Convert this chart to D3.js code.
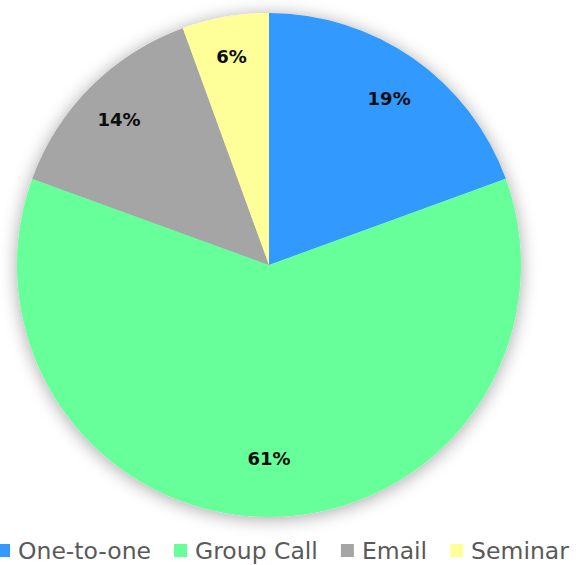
<!DOCTYPE html>
<html>
<head>
<meta charset="utf-8">
<script src="https://cdn.jsdelivr.net/npm/d3@7"></script>
<style>
  body { margin: 0; background: #fff; }
  svg { display: block; }
</style>
</head>
<body>
<svg id="chart" width="582" height="565"></svg>
<script>
// data
let categories = ["One-to-one", "Group Call", "Email", "Seminar"];
let values = [35, 110, 25, 10];
let colors = ["#3399ff", "#66ff99", "#a5a5a5", "#ffff99"];

function drawPie() {
    let cx = 269, cy = 265, radius = 252;
    let svg = d3.select("#chart");

    // soft glow behind the pie
    let defs = svg.append("defs");
    let filter = defs.append("filter")
        .attr("id", "glow")
        .attr("x", "-20%").attr("y", "-20%")
        .attr("width", "140%").attr("height", "140%");
    filter.append("feGaussianBlur")
        .attr("in", "SourceAlpha")
        .attr("stdDeviation", 9);
    filter.append("feOffset").attr("dx", 0).attr("dy", 2).attr("result", "blur");
    filter.append("feComponentTransfer").append("feFuncA")
        .attr("type", "linear").attr("slope", 0.35);
    let merge = filter.append("feMerge");
    merge.append("feMergeNode");
    merge.append("feMergeNode").attr("in", "SourceGraphic");

    let total = d3.sum(values);
    let pie = d3.pie().sort(null).value(d => d);
    let arcs = pie(values);
    let arc = d3.arc().innerRadius(0).outerRadius(radius);

    let g = svg.append("g")
        .attr("transform", "translate(" + cx + "," + cy + ")");

    g.append("g").attr("filter", "url(#glow)")
        .selectAll("path").data(arcs)
        .enter().append("path")
        .attr("d", arc)
        .attr("fill", (d, i) => colors[i]);

    g.selectAll("text.pct").data(arcs)
        .enter().append("text")
        .attr("class", "pct")
        .attr("transform", function (d) {
            let frac = d.value / total;
            let r = radius * (0.87 - 0.2 * frac);
            let a = (d.startAngle + d.endAngle) / 2;
            return "translate(" + (Math.sin(a) * r) + "," + (-Math.cos(a) * r + 5) + ")";
        })
        .attr("text-anchor", "middle")
        .attr("dy", "0.36em")
        .style("font-family", "'DejaVu Sans', sans-serif")
        .style("font-weight", "bold")
        .style("font-size", "18px")
        .style("fill", "#0d0d0d")
        .text(d => Math.round(d.value / total * 100) + "%");

    // legend along the bottom
    let legend = svg.append("g").attr("transform", "translate(0,551)");
    let x = -3;
    categories.forEach(function (name, i) {
        let item = legend.append("g").attr("transform", "translate(" + x + ",0)");
        item.append("rect")
            .attr("x", 0).attr("y", -7)
            .attr("width", 13).attr("height", 13)
            .attr("fill", colors[i]);
        let t = item.append("text")
            .attr("x", 21)
            .attr("dy", "0.36em")
            .style("font-family", "'DejaVu Sans', sans-serif")
            .style("font-size", "23.5px")
            .style("fill", "#595959")
            .text(name);
        x += 21 + t.node().getComputedTextLength() + 23;
    });
}

drawPie();
</script>
</body>
</html>
